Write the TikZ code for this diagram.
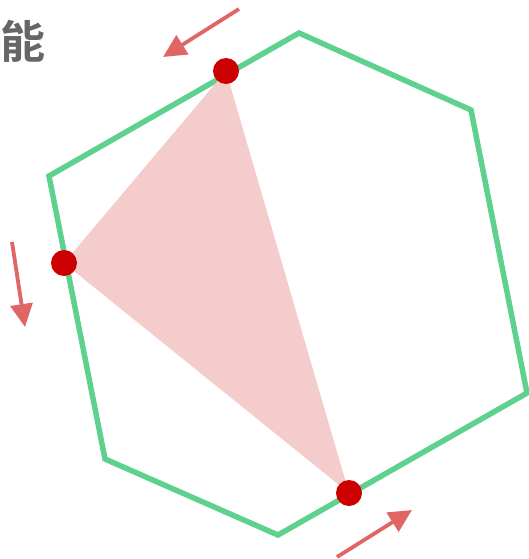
\documentclass[tikz,border=0pt]{standalone}
\usepackage{fontspec}
\newfontfamily\cjk[BoldFont={Noto Sans CJK SC Bold}]{Noto Sans CJK SC}
\usetikzlibrary{arrows.meta}
\definecolor{hexgreen}{HTML}{5ED18E}
\definecolor{tripink}{HTML}{F4CCCC}
\definecolor{dotred}{HTML}{CC0000}
\definecolor{arrred}{HTML}{E06666}
\definecolor{txtgray}{HTML}{666666}
\begin{document}
\begin{tikzpicture}[x=1pt,y=-1pt,
  hexline/.style={draw=hexgreen,line width=5.5pt,line join=miter},
  trifill/.style={fill=tripink},
  vdot/.style={circle,fill=dotred,minimum size=26pt,inner sep=0pt},
  movearrow/.style={draw=arrred,line width=3.8pt,-{Triangle[length=23pt,width=22pt]}}]
\useasboundingbox (0,0) rectangle (529,559);
\coordinate (h1) at (299,33);
\coordinate (h2) at (471,110);
\coordinate (h3) at (527,393);
\coordinate (h4) at (278,535);
\coordinate (h5) at (105,459);
\coordinate (h6) at (49,176);
\draw[hexline] (h1) -- (h2) -- (h3) -- (h4) -- (h5) -- (h6) -- cycle;
\coordinate (ta) at (226,71);
\coordinate (tb) at (64,263);
\coordinate (tc) at (349,493);
\fill[trifill] (ta) -- (tb) -- (tc) -- cycle;
\node[vdot] (da) at (ta) {};
\node[vdot] (db) at (tb) {};
\node[vdot] (dc) at (tc) {};
\coordinate (a1s) at (239,9);
\coordinate (a1e) at (163,57);
\coordinate (a2s) at (12,242);
\coordinate (a2e) at (25,327);
\coordinate (a3s) at (337,557);
\coordinate (a3e) at (412,510);
\draw[movearrow] (a1s) -- (a1e);
\draw[movearrow] (a2s) -- (a2e);
\draw[movearrow] (a3s) -- (a3e);
\node[text=txtgray,font=\cjk\bfseries\fontsize{45}{45}\selectfont,inner sep=0pt] (lbl) at (23,41) {能};
\end{tikzpicture}
\end{document}
